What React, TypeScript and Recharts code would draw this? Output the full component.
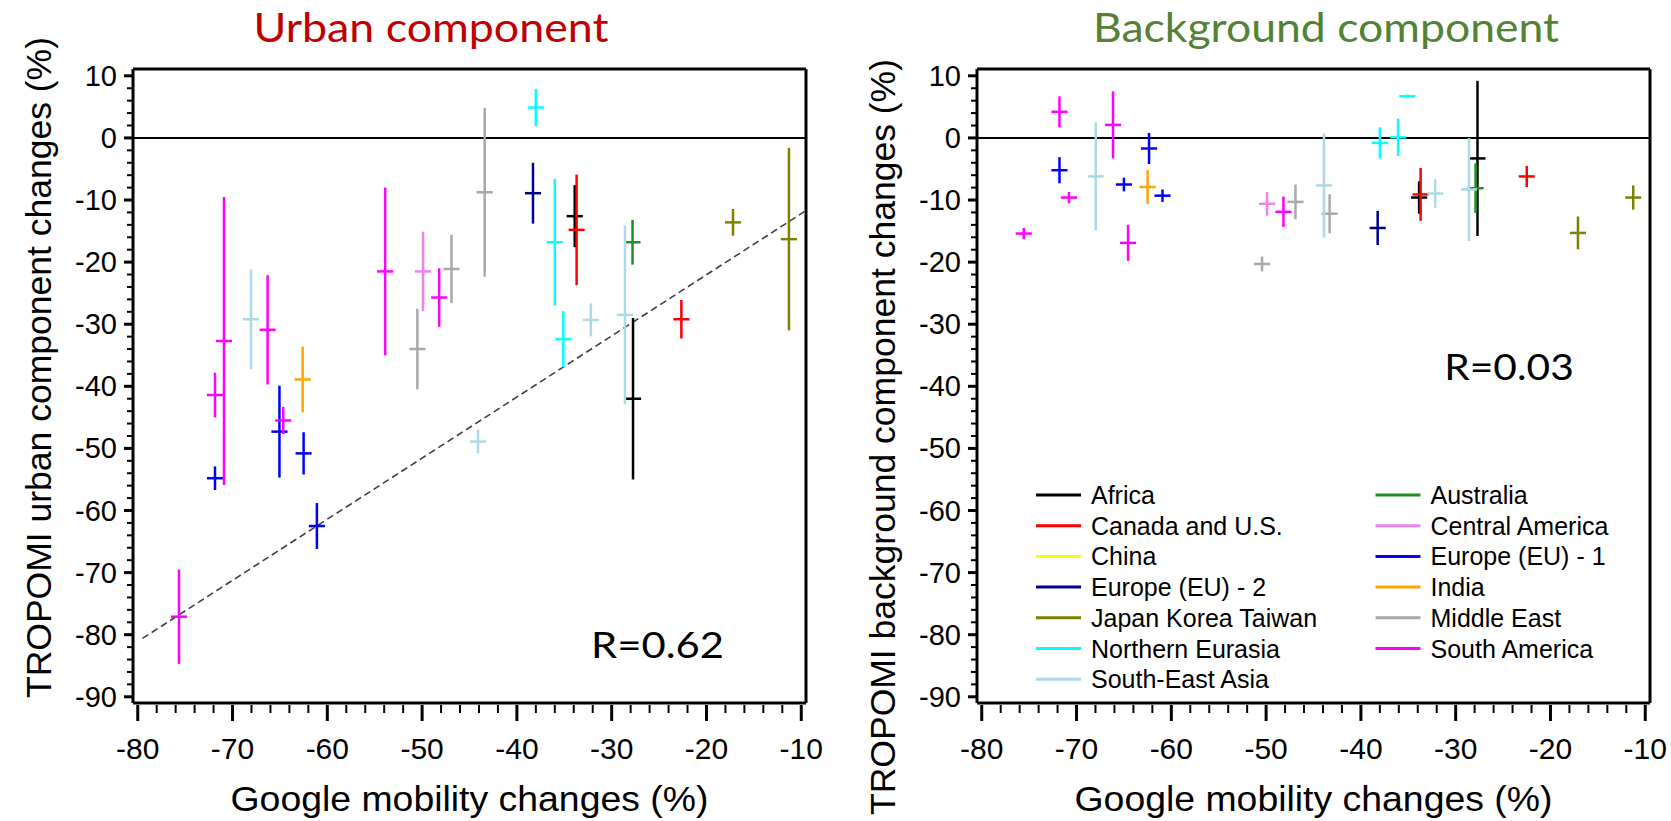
import React from 'react';
import { ScatterChart, Scatter, XAxis, YAxis, ErrorBar, ReferenceLine, Customized } from 'recharts';

// ---------- categories ----------
const REGIONS = [
  'Africa', 'Australia', 'Canada and U.S.', 'Central America', 'China', 'Europe (EU) - 1',
  'Europe (EU) - 2', 'India', 'Japan Korea Taiwan', 'Middle East', 'Northern Eurasia',
  'South America', 'South-East Asia',
];
const REGION_COLORS = [
  '#000000', '#1f8f1f', '#ff0000', '#ee82ee', '#ffff00', '#0000ff',
  '#00008b', '#ffa500', '#808000', '#a9a9a9', '#00ffff',
  '#ff00ff', '#add8e6',
];

// ---------- axis ticks ----------
const X_MAJOR = [-80, -70, -60, -50, -40, -30, -20, -10];
const Y_MAJOR = [-90, -80, -70, -60, -50, -40, -30, -20, -10, 0, 10];
const MINOR_STEP = 2;
const X_DOMAIN = [-80.5, -9.5];
const Y_DOMAIN = [-91, 11.1];

// horizontal half-width of each cross (mobility uncertainty marker)
const H_ERR = 0.85;

// ---------- Urban component ----------
const urbanRegion = [
  'South America', 'South America', 'South-East Asia', 'South America', 'India', 'Europe (EU) - 1',
  'South America', 'Europe (EU) - 1', 'Europe (EU) - 1', 'Europe (EU) - 1', 'South America', 'South America',
  'Central America', 'South America', 'Middle East', 'Middle East', 'Middle East', 'Northern Eurasia',
  'Europe (EU) - 2', 'Northern Eurasia', 'Africa', 'Canada and U.S.', 'Northern Eurasia', 'South-East Asia',
  'South-East Asia', 'Africa', 'Australia', 'Canada and U.S.', 'Japan Korea Taiwan', 'Japan Korea Taiwan',
  'South-East Asia',
];
const urbanX = [
  -71.85, -70.9, -68.05, -66.3, -62.6, -65.05, -64.65, -62.5, -71.85, -61.1, -75.65, -53.9,
  -49.9, -48.2, -46.9, -50.5, -43.4, -38.0, -38.3, -36.0, -33.9, -33.7, -35.1, -32.2,
  -28.6, -27.75, -27.8, -22.65, -17.2, -11.3, -44.1,
];
const urbanY = [
  -41.4, -32.7, -29.2, -30.9, -38.9, -47.3, -45.5, -50.8, -54.8, -62.5, -77.1, -21.5,
  -21.5, -25.7, -21.1, -34.0, -8.75, 4.9, -8.9, -16.8, -12.6, -14.8, -32.4, -29.3,
  -28.5, -42.0, -16.8, -29.2, -13.6, -16.3, -48.9,
];
const urbanErr = [
  3.6, 23.2, 8.05, 8.8, 5.3, 7.4, 2.2, 3.4, 1.9, 3.7, 7.6, 13.5,
  6.4, 4.7, 5.5, 6.5, 13.6, 3.0, 4.9, 10.2, 5.0, 8.9, 4.5, 2.65,
  14.4, 13.0, 3.6, 3.1, 2.15, 14.7, 1.9,
];
const urbanFitX = [-79.5, -9.5];
const urbanFitY = [-80.6, -11.7];

// ---------- Background component ----------
const bgRegion = [
  'South America', 'South America', 'Europe (EU) - 1', 'South America', 'South-East Asia', 'South America',
  'South America', 'Europe (EU) - 1', 'India', 'Europe (EU) - 1', 'Europe (EU) - 1', 'Middle East',
  'Central America', 'South America', 'Middle East', 'South-East Asia', 'Middle East', 'Europe (EU) - 2',
  'Northern Eurasia', 'Northern Eurasia', 'Northern Eurasia', 'Africa', 'Canada and U.S.', 'South-East Asia',
  'South-East Asia', 'Africa', 'Australia', 'Canada and U.S.', 'Japan Korea Taiwan', 'Japan Korea Taiwan',
];
const bgX = [
  -75.57, -71.8, -71.8, -70.8, -67.97, -66.15, -64.56, -65.0, -62.5, -62.35, -60.93, -50.43,
  -49.9, -48.17, -46.9, -43.9, -43.3, -38.23, -38.0, -36.07, -35.1, -33.86, -33.7, -32.16,
  -28.6, -27.7, -27.9, -22.5, -17.1, -11.27,
];
const bgY = [
  -15.4, 4.2, -5.2, -9.6, -6.2, 2.1, -16.9, -7.5, -7.9, -1.7, -9.3, -20.3,
  -10.6, -11.9, -10.3, -7.65, -12.2, -14.5, -0.8, 0.1, 6.7, -9.6, -9.1, -8.95,
  -8.3, -3.3, -8.1, -6.2, -15.3, -9.6,
];
const bgErr = [
  0.9, 2.5, 2.1, 0.9, 8.7, 5.4, 2.9, 1.1, 2.75, 2.5, 1.0, 1.2,
  1.9, 2.45, 2.8, 8.4, 3.15, 2.75, 2.5, 3.0, 0.3, 2.6, 4.25, 2.3,
  8.3, 12.5, 4.0, 1.7, 2.65, 1.95,
];

const FONT = '"Liberation Sans", Arial, Helvetica, sans-serif';
const TITLE_FONT = 'Lato, "Open Sans", sans-serif';

function withMinors(majors: number[]) {
  const out: number[] = [];
  for (let i = 0; i < majors.length; i++) {
    out.push(majors[i]);
    if (i < majors.length - 1) {
      for (let v = majors[i] + MINOR_STEP; v < majors[i + 1]; v += MINOR_STEP) out.push(v);
    }
  }
  return out;
}
const X_TICKS = withMinors(X_MAJOR);
const Y_TICKS = withMinors(Y_MAJOR);

function buildRows(region: string[], xs: number[], ys: number[], errs: number[]) {
  return xs.map((x, i) => ({ x, y: ys[i], yErr: errs[i], xErr: H_ERR, region: region[i] }));
}
const urbanRows = buildRows(urbanRegion, urbanX, urbanY, urbanErr);
const bgRows = buildRows(bgRegion, bgX, bgY, bgErr);

const XTick = (props: any) => {
  const { x, y, payload } = props;
  const v = payload.value;
  const major = X_MAJOR.includes(v);
  return (
    <g>
      <line x1={x} x2={x} y1={y + 2} y2={y + (major ? 18 : 10)} stroke="#000" strokeWidth={major ? 3 : 2} />
      {major && (
        <text x={x} y={y + 56} textAnchor="middle" fontSize={30} fontFamily={FONT} fill="#000">
          {String(v)}
        </text>
      )}
    </g>
  );
};

const YTick = (props: any) => {
  const { x, y, payload } = props;
  const v = payload.value;
  const major = Y_MAJOR.includes(v);
  return (
    <g>
      <line x1={x - (major ? 9 : 6)} x2={x} y1={y} y2={y} stroke="#000" strokeWidth={major ? 3 : 2} />
      {major && (
        <text x={x - 16} y={y + 10} textAnchor="end" fontSize={29} fontFamily={FONT} fill="#000">
          {String(v)}
        </text>
      )}
    </g>
  );
};

const EmptyShape = () => <g />;

type PanelProps = {
  rows: any[];
  left: number;
  title: string;
  titleColor: string;
  titleX: number;
  titleWidth: number;
  yLabel: string;
  yLabelX: number;
  yLabelY: number;
  yLabelLen: number;
  rText: string;
  rX: number;
  rY: number;
  rWidth: number;
  fitX?: number[];
  fitY?: number[];
  legend?: boolean;
};

function Panel(p: PanelProps) {
  const W = 830;
  const H = 821;
  const ox = p.left;
  const overlay = (
    <g>
      <text x={p.titleX - ox} y={42} textAnchor="middle" fontSize={40} fontFamily={TITLE_FONT}
        fill={p.titleColor} textLength={p.titleWidth} lengthAdjust="spacingAndGlyphs">{p.title}</text>
      <text x={p.rX - ox} y={p.rY} textAnchor="middle" fontSize={37} fontFamily={TITLE_FONT}
        fill="#000" textLength={p.rWidth} lengthAdjust="spacingAndGlyphs">{p.rText}</text>
      <text transform={`translate(${p.yLabelX - ox},${p.yLabelY}) rotate(-90)`} textAnchor="middle"
        fontSize={35} fontFamily={FONT} fill="#000" textLength={p.yLabelLen}
        lengthAdjust="spacingAndGlyphs">{p.yLabel}</text>
      <text x={469.5} y={811} textAnchor="middle" fontSize={35} fontFamily={FONT} fill="#000"
        textLength={478} lengthAdjust="spacingAndGlyphs">Google mobility changes (%)</text>
      {p.legend &&
        REGIONS.map((r, i) => {
          const col = i % 2;
          const row = Math.floor(i / 2);
          const lx = (col === 0 ? 1036 : 1375.5) - ox;
          const cy = 495 + row * 30.7;
          return (
            <g key={r}>
              <line x1={lx} x2={lx + 45} y1={cy} y2={cy} stroke={REGION_COLORS[i]} strokeWidth={3} />
              <text x={lx + 55} y={cy + 9} fontSize={25} fontFamily={FONT} fill="#000">{r}</text>
            </g>
          );
        })}
    </g>
  );
  return (
    <div style={{ position: 'absolute', left: p.left, top: 0, width: W, height: H }}>
      <ScatterChart width={W} height={H} margin={{ top: 69, right: 24, bottom: 0, left: 0 }}>
        <XAxis type="number" dataKey="x" domain={X_DOMAIN} ticks={X_TICKS} interval={0}
          allowDataOverflow tickLine={false} tickSize={0} tickMargin={0} height={118}
          axisLine={{ stroke: '#000', strokeWidth: 3 }} tick={<XTick />} />
        <YAxis type="number" dataKey="y" domain={Y_DOMAIN} ticks={Y_TICKS} interval={0}
          allowDataOverflow tickLine={false} tickSize={0} tickMargin={0} width={133}
          axisLine={{ stroke: '#000', strokeWidth: 3 }} tick={<YTick />} />
        <ReferenceLine y={Y_DOMAIN[1]} stroke="#000" strokeWidth={3} />
        <ReferenceLine x={X_DOMAIN[1]} stroke="#000" strokeWidth={3} />
        <ReferenceLine y={0} stroke="#000" strokeWidth={2} />
        {p.fitX && p.fitY && (
          <ReferenceLine
            segment={[{ x: p.fitX[0], y: p.fitY[0] }, { x: p.fitX[1], y: p.fitY[1] }]}
            stroke="#404040" strokeWidth={1.6} strokeDasharray="7 4" />
        )}
        {REGIONS.map((r, k) => {
          const data = p.rows.filter((d) => d.region === r);
          if (!data.length) return null;
          return (
            <Scatter key={r} name={r} data={data} fill={REGION_COLORS[k]} shape={EmptyShape}
              isAnimationActive={false}>
              <ErrorBar dataKey="yErr" direction="y" width={0} stroke={REGION_COLORS[k]} strokeWidth={2.5} />
              <ErrorBar dataKey="xErr" direction="x" width={0} stroke={REGION_COLORS[k]} strokeWidth={2.5} />
            </Scatter>
          );
        })}
        <Customized component={() => overlay} />
      </ScatterChart>
    </div>
  );
}

export default function App() {
  return (
    <div style={{ position: 'absolute', left: 0, top: 0, width: 1671, height: 821, background: '#fff' }}>
      <Panel rows={urbanRows} left={0} title="Urban component" titleColor="#c00000" titleX={431}
        titleWidth={355} yLabel="TROPOMI urban component changes (%)" yLabelX={51} yLabelY={367.5}
        yLabelLen={661} rText="R=0.62" rX={657.5} rY={658} rWidth={133}
        fitX={urbanFitX} fitY={urbanFitY} />
      <Panel rows={bgRows} left={844} title="Background component" titleColor="#548235" titleX={1326}
        titleWidth={466} yLabel="TROPOMI background component changes (%)" yLabelX={895} yLabelY={437}
        yLabelLen={756} rText="R=0.03" rX={1509} rY={380} rWidth={129.5} legend />
    </div>
  );
}
